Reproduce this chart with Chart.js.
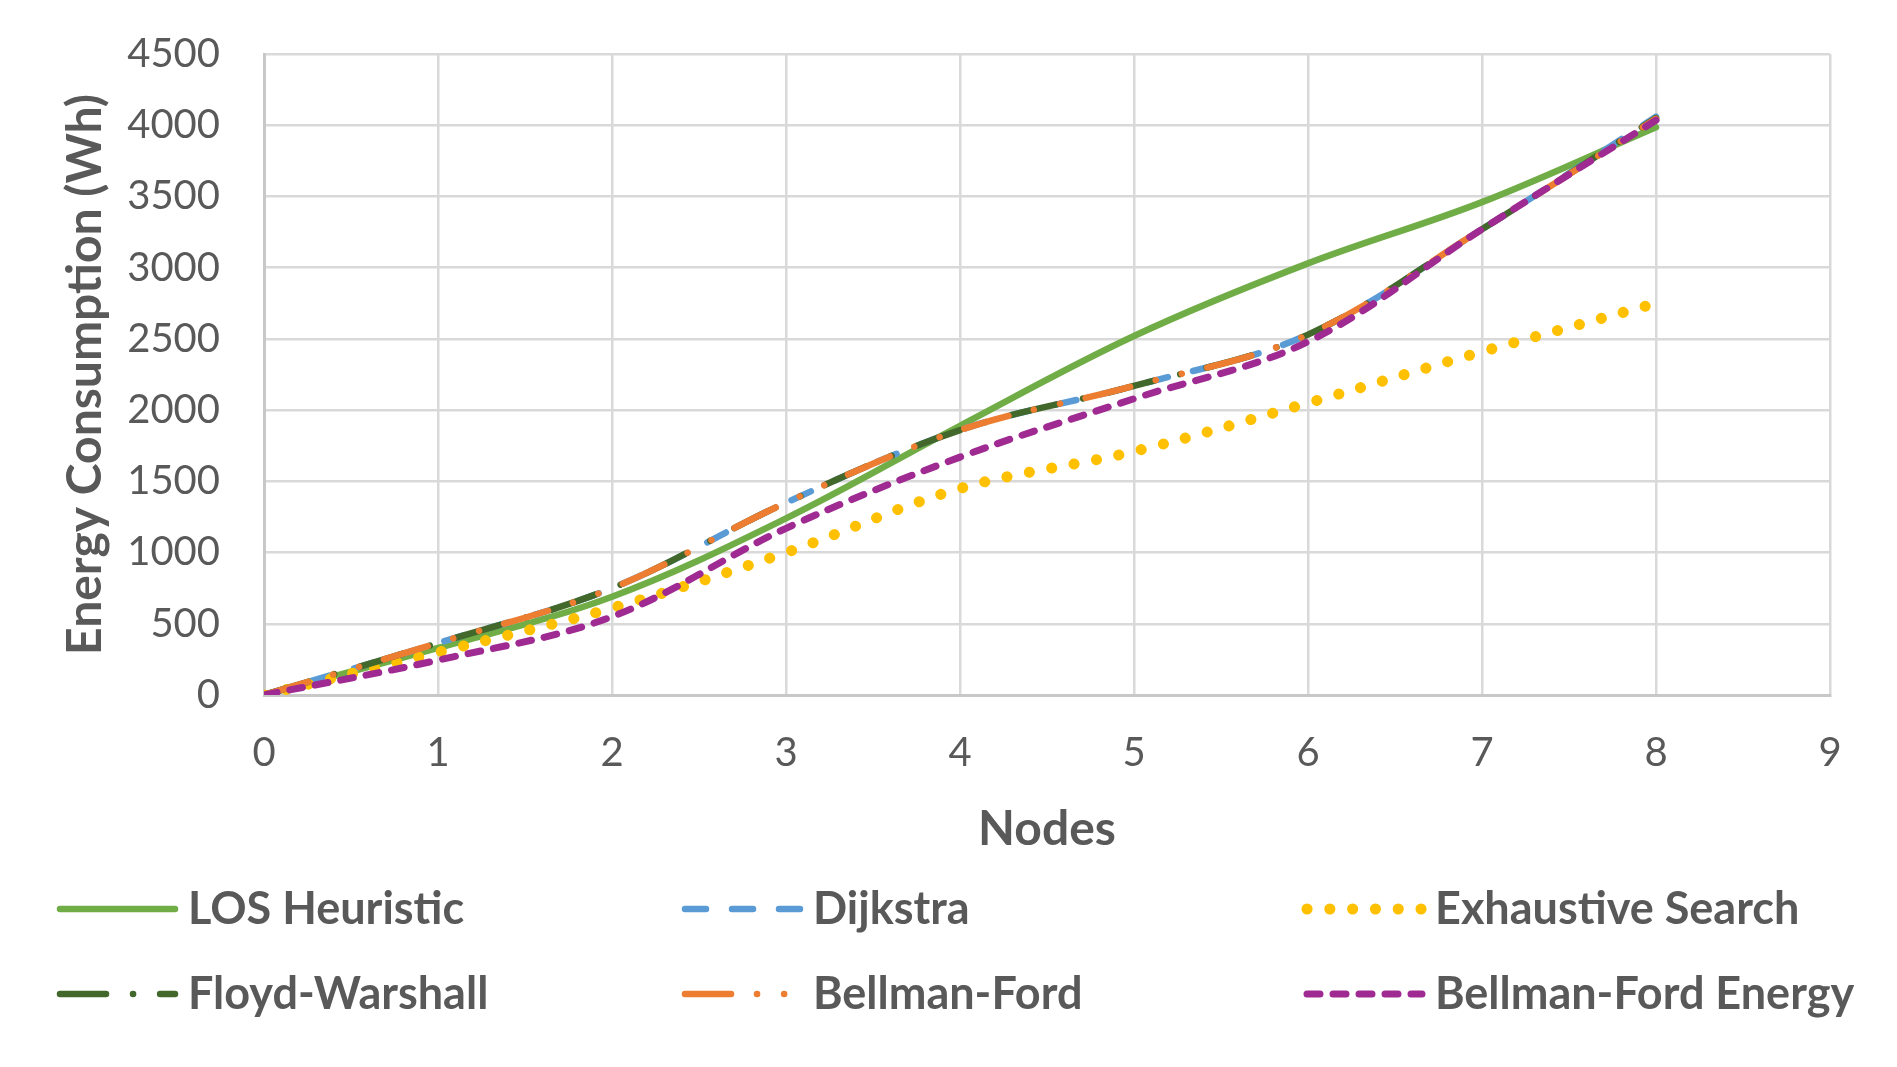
<!DOCTYPE html>
<html>
<head>
<meta charset="utf-8">
<title>Energy Consumption vs Nodes</title>
<script src="https://cdn.jsdelivr.net/npm/chart.js@4.4.1/dist/chart.umd.min.js"></script>
<style>
  html, body { margin: 0; padding: 0; background: #fff; }
  #wrap { width: 1897px; height: 1067px; }
</style>
</head>
<body>
<div id="wrap"><canvas id="energy-chart" width="1897" height="1067"></canvas></div>
<script>
// Nodes (x axis)
const nodes = [0, 1, 2, 3, 4, 5, 6, 7, 8];

// Energy consumption (Wh) for each algorithm
const losHeuristic      = [0, 330, 690, 1240, 1890, 2520, 3030, 3460, 3985];
const dijkstra          = [0, 365, 750, 1350, 1860, 2170, 2530, 3270, 4060];
const exhaustiveSearch  = [0, 300, 610, 1000, 1450, 1710, 2050, 2410, 2750];
const floydWarshall     = [0, 365, 750, 1350, 1860, 2170, 2530, 3270, 4050];
const bellmanFord       = [0, 365, 750, 1350, 1860, 2170, 2530, 3270, 4045];
const bellmanFordEnergy = [0, 245, 550, 1170, 1670, 2080, 2480, 3270, 4035];

const seriesNames = ['LOS Heuristic', 'Dijkstra', 'Exhaustive Search',
                     'Floyd-Warshall', 'Bellman-Ford', 'Bellman-Ford Energy'];
const seriesValues = [losHeuristic, dijkstra, exhaustiveSearch,
                      floydWarshall, bellmanFord, bellmanFordEnergy];

// axis ranges
const xMin = 0, xMax = 9, xStep = 1;
const yMin = 0, yMax = 4500, yStep = 500;

// line look (Excel-like dash patterns)
const lineStyles = [
  { color: '#70AD47', width: 6.5, dash: [] },
  { color: '#5B9BD5', width: 6.5, dash: [21, 26] },
  { color: '#FFC000', width: 11,  dash: [0.1, 22.7] },
  { color: '#43682B', width: 6.5, dash: [46, 27, 0.1, 27] },
  { color: '#ED7D31', width: 6.5, dash: [46, 26, 0.1, 27, 0.1, 26] },
  { color: '#9E2A92', width: 7,   dash: [13, 13] }
];

const textColor = '#595959';
const gridColor = '#D9D9D9';

const datasets = seriesNames.map((name, i) => ({
  label: name,
  data: nodes.map((n, j) => ({ x: n, y: seriesValues[i][j] })),
  borderColor: lineStyles[i].color,
  borderWidth: lineStyles[i].width,
  borderDash: lineStyles[i].dash,
  borderCapStyle: 'round',
  borderJoinStyle: 'round',
  pointRadius: 0,
  fill: false,
  tension: 0.35,
  order: seriesNames.length - 1 - i   // later series drawn on top, like Excel
}));

// legend laid out on a 3 column grid under the axis title
const gridLegend = {
  id: 'gridLegend',
  afterDraw(chart) {
    const ctx = chart.ctx;
    const colX = [56, 681, 1303];
    const rowY = [909, 994];
    const sampleLen = 121;
    ctx.save();
    chart.data.datasets.forEach((ds, i) => {
      const x = colX[i % 3];
      const y = rowY[Math.floor(i / 3)];
      ctx.beginPath();
      ctx.strokeStyle = ds.borderColor;
      ctx.lineWidth = ds.borderWidth;
      ctx.lineCap = 'round';
      ctx.setLineDash(ds.borderDash);
      ctx.moveTo(x + 4, y);
      ctx.lineTo(x + sampleLen - 2, y);
      ctx.stroke();
      ctx.setLineDash([]);
      ctx.fillStyle = textColor;
      ctx.font = 'bold 45px Lato';
      ctx.textBaseline = 'alphabetic';
      ctx.fillText(ds.label, x + sampleLen + 11, y + 15);
    });
    ctx.restore();
  }
};

const ctx = document.getElementById('energy-chart').getContext('2d');
const energyChart = new Chart(ctx, {
  type: 'line',
  data: { datasets: datasets },
  plugins: [gridLegend],
  options: {
    responsive: false,
    animation: false,
    devicePixelRatio: 1,
    layout: { padding: { top: 54, right: 67, bottom: 172, left: 0 } },
    plugins: {
      legend: { display: false },
      tooltip: { enabled: false }
    },
    scales: {
      x: {
        type: 'linear',
        min: xMin, max: xMax,
        afterFit: (axis) => { axis.height = 200; },
        ticks: {
          stepSize: xStep,
          color: textColor,
          font: { family: 'Lato', size: 40 },
          padding: 34,
          maxRotation: 0
        },
        grid: { color: gridColor, lineWidth: 2.5, drawTicks: false },
        border: { color: '#C8C8C8', width: 3 },
        title: {
          display: true,
          text: 'Nodes',
          color: textColor,
          font: { family: 'Lato', size: 48, weight: 'bold' },
          padding: { top: 0, bottom: 37 }
        }
      },
      y: {
        min: yMin, max: yMax,
        afterFit: (axis) => {
          axis.width = 264;
          axis.paddingTop = 24;
          axis.paddingBottom = 24;
        },
        ticks: {
          stepSize: yStep,
          color: textColor,
          font: { family: 'Lato', size: 40 },
          padding: 44,
          callback: (value) => String(value)
        },
        grid: { color: gridColor, lineWidth: 2.5, drawTicks: false },
        border: { color: '#C8C8C8', width: 3 },
        title: {
          display: true,
          text: 'Energy Consumption (Wh)',
          color: textColor,
          font: { family: 'Lato', size: 48, weight: 'bold' },
          padding: { top: 57, bottom: 0 }
        }
      }
    }
  }
});
</script>
</body>
</html>
